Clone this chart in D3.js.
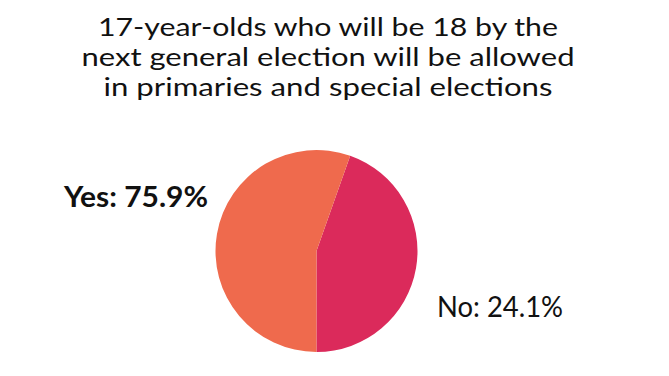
<!DOCTYPE html>
<html><head><meta charset="utf-8">
<script src="https://cdn.jsdelivr.net/npm/d3@7"></script>
<style>html,body{margin:0;padding:0;background:#fff;}</style>
</head><body>
<script>
const titleLines = ["17-year-olds who will be 18 by the", "next general election will be allowed", "in primaries and special elections"];
const categories = ["No", "Yes"];
const labelPercents = [24.1, 75.9];
// slice sizes as drawn in the picture
const sliceShares = [44.6, 55.4];
const colors = ["#DB2A5B", "#EF6A4D"];

const W = 669, H = 376;
const svg = d3.select("body").append("svg").attr("width", W).attr("height", H);
const font = "Lato, 'Noto Sans', sans-serif";
const titleWidths = [460, 493, 449];

svg.append("g").selectAll("text").data(titleLines).join("text")
  .attr("x", 328).attr("y", (d, i) => 36 + i * 30)
  .attr("text-anchor", "middle")
  .attr("font-family", font).attr("font-size", 25).attr("fill", "#111")
  .attr("textLength", (d, i) => titleWidths[i]).attr("lengthAdjust", "spacingAndGlyphs")
  .text(d => d);

const cx = 316.5, cy = 251, r = 101;
const start = 0.34;
const pie = d3.pie().sort(null).value(d => d.v).startAngle(start).endAngle(start + 2 * Math.PI);
const data = categories.map((c, i) => ({c, v: sliceShares[i], p: labelPercents[i], col: colors[i]}));
const arc = d3.arc().innerRadius(0).outerRadius(r);
svg.append("g").attr("transform", `translate(${cx},${cy})`)
  .selectAll("path").data(pie(data)).join("path")
  .attr("d", arc).attr("fill", d => d.data.col);

// labels
svg.append("text").attr("x", 208).attr("y", 207).attr("text-anchor", "end")
  .attr("font-family", font).attr("font-size", 28).attr("font-weight", "bold").attr("fill", "#111")
  .attr("textLength", 144).attr("lengthAdjust", "spacingAndGlyphs")
  .text(`${categories[1]}: ${labelPercents[1]}%`);
svg.append("text").attr("x", 437).attr("y", 317).attr("text-anchor", "start")
  .attr("font-family", font).attr("font-size", 28).attr("fill", "#111")
  .attr("textLength", 126).attr("lengthAdjust", "spacingAndGlyphs")
  .text(`${categories[0]}: ${labelPercents[0]}%`);
</script>
</body></html>
